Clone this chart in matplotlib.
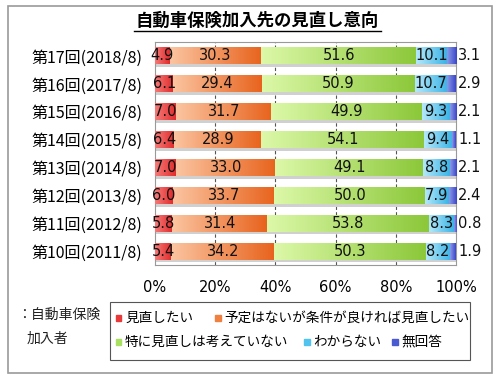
import numpy as np
import matplotlib.pyplot as plt
from matplotlib.colors import LinearSegmentedColormap
from matplotlib.patches import Rectangle
from matplotlib.lines import Line2D

plt.rcParams['font.family'] = ['Noto Sans CJK JP', 'DejaVu Sans']

rounds = ['第17回(2018/8)', '第16回(2017/8)', '第15回(2016/8)', '第14回(2015/8)',
          '第13回(2014/8)', '第12回(2013/8)', '第11回(2012/8)', '第10回(2011/8)']
minaoshitai = [4.9, 6.1, 7.0, 6.4, 7.0, 6.0, 5.8, 5.4]
joken_yoshi = [30.3, 29.4, 31.7, 28.9, 33.0, 33.7, 31.4, 34.2]
kangaenai = [51.6, 50.9, 49.9, 54.1, 49.1, 50.0, 53.8, 50.3]
wakaranai = [10.1, 10.7, 9.3, 9.4, 8.8, 7.9, 8.3, 8.2]
mukaito = [3.1, 2.9, 2.1, 1.1, 2.1, 2.4, 0.8, 1.9]
series_names = ['見直したい', '予定はないが条件が良ければ見直したい',
                '特に見直しは考えていない', 'わからない', '無回答']
series = [minaoshitai, joken_yoshi, kangaenai, wakaranai, mukaito]

# light -> dark gradient per segment
grads = [('#f47a78', '#e02a2a'), ('#fbc4a0', '#e8641e'), ('#dcf8a8', '#8cc83a'),
         ('#b4e8fa', '#3cb4e6'), ('#8c9ae8', '#3a46c8')]
solid = ['#e83a3a', '#f08040', '#a8e060', '#50c4ee', '#4a5ad0']

fig = plt.figure(figsize=(5, 3.75), dpi=100)
ax = fig.add_axes([0.31, 0.293, 0.602, 0.595])

y = np.arange(len(rounds))
h = 0.6
left = np.zeros(len(rounds))
grad = np.linspace(0, 1, 64).reshape(1, -1)
for k, vals in enumerate(series):
    vals = np.array(vals)
    cmap = LinearSegmentedColormap.from_list('g%d' % k, grads[k])
    for i in range(len(rounds)):
        x0, x1 = left[i], left[i] + vals[i]
        # shadow
        ax.add_patch(Rectangle((x0, y[i] + h / 2), vals[i], 0.1,
                               color='#d0d0d0', lw=0, zorder=2))
        ax.imshow(grad, cmap=cmap, extent=(x0, x1, y[i] + h / 2, y[i] - h / 2),
                  aspect='auto', zorder=3, interpolation='bilinear')
        if k < 4:
            ax.text((x0 + x1) / 2, y[i], '%.1f' % vals[i], ha='center',
                    va='center', fontsize=10.5, family='DejaVu Sans', zorder=5,
                    color='#111111')
        else:
            ax.text(104.6, y[i], '%.1f' % vals[i], ha='center', va='center',
                    fontsize=10.5, family='DejaVu Sans', zorder=5, color='#111111')
    left += vals

ax.set_xlim(0, 100)
ax.set_ylim(len(rounds) - 0.5, -0.5)
ax.set_aspect('auto')
ax.set_yticks(y)
ax.set_yticklabels(rounds, fontsize=11.5)
ax.set_xticks([0, 20, 40, 60, 80, 100])
ax.set_xticklabels(['0%', '20%', '40%', '60%', '80%', '100%'],
                   fontsize=10.5, family='DejaVu Sans')
ax.tick_params(length=0)
ax.tick_params(axis='y', pad=9)
ax.tick_params(axis='x', pad=11)
for xv in [20, 40, 60, 80]:
    ax.axvline(xv, color='#555555', lw=0.8, ls=(0, (3, 2)), zorder=1)
for s in ax.spines.values():
    s.set_color('#999999')
    s.set_linewidth(0.8)

# title with underline
fig.text(0.515, 0.944, '自動車保険加入先の見直し意向', ha='center', va='center',
         fontsize=12.5, fontweight='bold')
fig.add_artist(Line2D([0.267, 0.762], [0.917, 0.917], color='black', lw=1.0))

# outer frame
fig.add_artist(Rectangle((0.016, 0.005), 0.968, 0.98, fill=False,
                         ec='#9a9a9a', lw=1.2, transform=fig.transFigure))

# left note
fig.text(0.034, 0.16, '：自動車保険', fontsize=10, va='center', color='#222222')
fig.text(0.054, 0.097, '加入者', fontsize=10, va='center', color='#222222')

# legend box
fig.add_artist(Rectangle((0.22, 0.04), 0.72, 0.155, fill=False, ec='#555555',
                         lw=0.8, transform=fig.transFigure))
leg_pos = [(0.238, 0.152), (0.436, 0.152), (0.238, 0.088), (0.614, 0.088), (0.79, 0.088)]
for k, (lx, ly) in enumerate(leg_pos):
    fig.add_artist(Rectangle((lx - 0.006, ly - 0.008), 0.011, 0.015, color=solid[k],
                             transform=fig.transFigure))
    fig.text(lx + 0.012, ly, series_names[k], fontsize=9.8, va='center')

fig.savefig('out.png', dpi=100)
